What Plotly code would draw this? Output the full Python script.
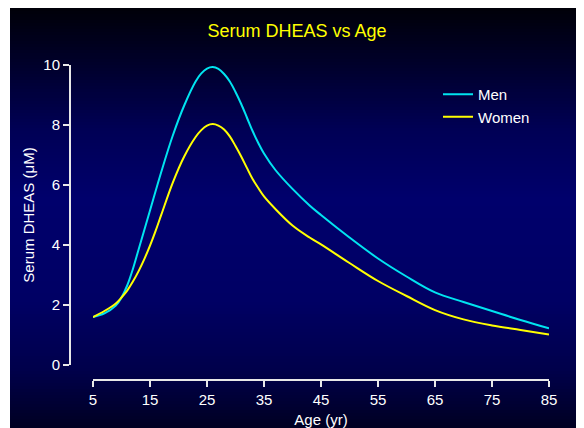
import plotly.graph_objects as go

# ---- data ----
age_men = [5, 7, 9, 10, 11, 12, 13, 14, 15, 17, 19, 21, 23, 24, 25, 26, 27, 28, 29, 30, 31, 32, 33, 34, 35,
           37, 40, 43, 45, 50, 55, 60, 65, 70, 75, 80, 85]
dheas_men = [1.6, 1.72, 1.98, 2.25, 2.65, 3.2, 3.85, 4.5, 5.15, 6.45, 7.65, 8.65, 9.45, 9.72, 9.88, 9.93, 9.87,
             9.7, 9.45, 9.1, 8.7, 8.25, 7.8, 7.4, 7.05, 6.5, 5.87, 5.32, 5.0, 4.25, 3.55, 2.95, 2.42, 2.1, 1.8,
             1.5, 1.22]
age_women = [5, 7, 9, 10, 11, 12, 13, 14, 15, 16, 17, 19, 21, 23, 24, 25, 26, 27, 28, 29, 30, 31, 32, 33, 34,
             35, 37, 40, 43, 45, 50, 55, 60, 65, 70, 75, 80, 85]
dheas_women = [1.6, 1.8, 2.05, 2.25, 2.48, 2.78, 3.13, 3.53, 3.98, 4.48, 5.02, 6.08, 6.95, 7.6, 7.83, 7.98, 8.03,
               7.98, 7.85, 7.62, 7.3, 6.95, 6.57, 6.2, 5.9, 5.62, 5.2, 4.65, 4.25, 4.02, 3.4, 2.8, 2.3, 1.83,
               1.52, 1.32, 1.17, 1.02]
x_ticks = [5, 15, 25, 35, 45, 55, 65, 75, 85]
y_ticks = [0, 2, 4, 6, 8, 10]

W, H = 584, 428
ml, mr, mt, mb = 62, 43, 57, 56
pw, ph = W - ml - mr, H - mt - mb


def fx(px):
    return (px - ml) / pw


def fy(py):
    return (H - mb - py) / ph


# background gradient (figure pixel y, rgb)
stops = [(0, (0, 0, 8)), (52, (0, 0, 40)), (122, (0, 0, 85)), (192, (0, 0, 108)),
         (292, (0, 0, 100)), (362, (0, 0, 75)), (428, (0, 0, 28))]


def col_at(py):
    for (y0, c0), (y1, c1) in zip(stops[:-1], stops[1:]):
        if y0 <= py <= y1:
            t = (py - y0) / (y1 - y0)
            return "rgb(%d,%d,%d)" % tuple(round(a + (b - a) * t) for a, b in zip(c0, c1))
    return "rgb(%d,%d,%d)" % stops[-1][1]


shapes = []
step = 3
for y in range(0, H, step):
    shapes.append(dict(type="rect", xref="paper", yref="paper", x0=fx(2), x1=fx(W + 2),
                       y0=fy(H + 2), y1=fy(y), fillcolor=col_at(y + step / 2),
                       line_width=0, layer="below"))

fig = go.Figure()
fig.add_trace(go.Scatter(x=age_men, y=dheas_men, mode="lines", name="Men",
                         line=dict(color="#00e4f0", width=2, shape="spline", smoothing=1.0)))
fig.add_trace(go.Scatter(x=age_women, y=dheas_women, mode="lines", name="Women",
                         line=dict(color="#ffff00", width=2, shape="spline", smoothing=1.0)))

font = "Liberation Sans, Arial, sans-serif"
axis_col = "#e8e8e8"
fig.update_layout(
    width=W, height=H,
    margin=dict(l=ml, r=mr, t=mt, b=mb, pad=0),
    paper_bgcolor="white", plot_bgcolor="rgba(0,0,0,0)",
    shapes=shapes,
    font=dict(family=font, color="white", size=15),
    title=dict(text="Serum DHEAS vs Age", x=289 / W, xanchor="center", y=1 - 23 / H, yanchor="middle",
               font=dict(color="#ffff00", size=18, family=font)),
    xaxis=dict(domain=[fx(85), 1], range=[5, 85], anchor="free", position=0,
               tickvals=x_ticks, ticks="outside", ticklen=6, tickwidth=2, tickcolor=axis_col,
               showline=True, linecolor=axis_col, linewidth=2, showgrid=False, zeroline=False,
               tickfont=dict(size=15, color="white"),
               title=dict(text="Age (yr)", standoff=6, font=dict(size=15, color="white"))),
    yaxis=dict(domain=[fy(357), 1], range=[0, 10], anchor="free", position=0,
               tickvals=y_ticks, ticks="outside", ticklen=6, tickwidth=2, tickcolor=axis_col,
               showline=True, linecolor=axis_col, linewidth=2, showgrid=False, zeroline=False,
               tickfont=dict(size=15, color="white"),
               title=dict(text="Serum DHEAS (μM)", standoff=4, font=dict(size=15, color="white"))),
    legend=dict(x=fx(430), y=fy(70), xanchor="left", yanchor="top", bgcolor="rgba(0,0,0,0)",
                font=dict(size=15, color="white"), tracegroupgap=0, itemwidth=30),
    showlegend=True,
)

fig.write_html("out.html")
